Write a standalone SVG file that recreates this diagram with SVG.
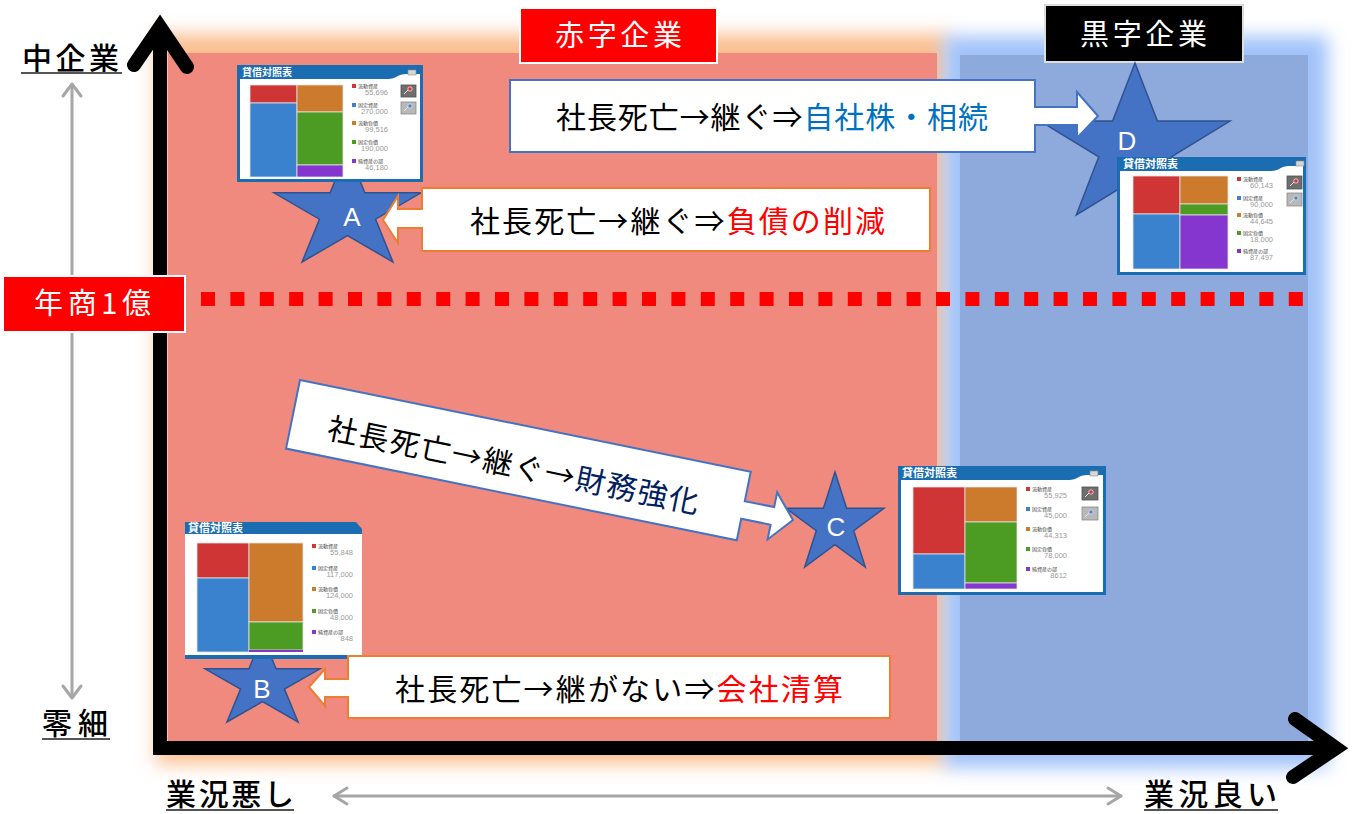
<svg xmlns="http://www.w3.org/2000/svg" width="1361" height="814" viewBox="0 0 1361 814">
  <style>
    .jp{font-family:"Noto Sans CJK JP","Noto Sans",sans-serif}
    .frame{fill:#1A6DB0}
    .pane{fill:#fff}
    .ttl{fill:#fff;font-weight:bold;font-family:"Noto Sans CJK JP",sans-serif}
    .lg{font-size:5px;fill:#444;font-family:"Noto Sans CJK JP",sans-serif}
    .val{font-size:7.5px;fill:#9a9a9a;text-anchor:end;font-family:"Liberation Sans",sans-serif}
    .cR{fill:#CF3535}.cB{fill:#3A82CE}.cO{fill:#CC7A2C}.cG{fill:#4C9B23}.cP{fill:#8536CE}
    .seg{stroke:#e4e4e4;stroke-width:0.8}
    .btnD{fill:#6e6e6e;stroke:#505050;stroke-width:0.8}
    .btnL{fill:#b8b8b8;stroke:#8a8a8a;stroke-width:0.8}
    .icon{fill:none;stroke:#e6e6e6;stroke-width:1}
    .close{fill:#d6d6d6;stroke:#8a8a8a;stroke-width:0.6}
    .star{fill:#4472C4;stroke:#2F528F}
    .starTxt{fill:#fff;font-family:"Liberation Sans",sans-serif;font-size:26px;text-anchor:middle}
    .callO{fill:#fff;stroke:#ED7D31;stroke-width:2}
    .callB{fill:#fff;stroke:#4472C4;stroke-width:2}
    .callTxt{font-size:30px;fill:#000}
    .axisLbl{font-size:30px;font-weight:500;fill:#000}
    .uline{stroke:#555;stroke-width:2}
    .guide{fill:none;stroke:#A6A6A6;stroke-width:3;stroke-linecap:round;stroke-linejoin:round}
    .axis{fill:none;stroke:#000;stroke-width:14}
    .tag{font-size:29px;fill:#fff}
  </style>
  <defs>
    <filter id="soft" x="-10%" y="-10%" width="120%" height="120%">
      <feGaussianBlur stdDeviation="9"/>
    </filter>
    <path id="star" vector-effect="non-scaling-stroke" stroke-width="1.5" d="M50,0 L61.8,38.2 L100,38.2 L69.1,61.8 L80.9,100 L50,76.4 L19.1,100 L30.9,61.8 L0,38.2 L38.2,38.2 Z"/>
  </defs>

  <rect width="1361" height="814" fill="#fff"/>

  <!-- zones: loss-making (red) and profitable (blue) with soft glows -->
  <g id="zones">
    <rect x="156" y="34" width="792" height="730" fill="#FBBE90" filter="url(#soft)"/>
    <rect x="944" y="36" width="384" height="732" fill="#A0C2FA" filter="url(#soft)"/>
    <rect x="168" y="53" width="769" height="690" fill="#F08A7E"/>
    <rect x="960" y="55" width="348" height="688" fill="#8EA9DB"/>
  </g>

  <!-- revenue threshold -->
  <line x1="201" y1="299" x2="1303" y2="299" stroke="#FF0000" stroke-width="14" stroke-dasharray="14 15.4"/>

  <!-- connectors: axes and guide arrows -->
  <g id="connectors">
    <path class="axis" d="M160,755 L160,28"/>
    <path class="axis" stroke-linejoin="miter" stroke-linecap="round" d="M134,65 L160,27 L187,67"/>
    <path class="axis" stroke-width="15" d="M153,748 L1336,748"/>
    <path class="axis" stroke-linejoin="miter" stroke-linecap="round" d="M1295,719 L1336,748 L1293,777"/>
    <path class="guide" d="M72,84 L72,697"/>
    <path class="guide" d="M63,96 L72,84 L81,96"/>
    <path class="guide" d="M63,686 L72,698 L81,686"/>
    <path class="guide" d="M334,796 L1121,796"/>
    <path class="guide" d="M347,788 L334,796 L347,804"/>
    <path class="guide" d="M1108,788 L1121,796 L1108,804"/>
  </g>

  <!-- axis captions -->
  <g id="caption-large" class="jp">
    <text class="axisLbl" x="22" y="69" textLength="97">中企業</text>
    <line class="uline" x1="21" y1="73" x2="122" y2="73"/>
  </g>
  <g id="caption-small" class="jp">
    <text class="axisLbl" x="42" y="734" textLength="66">零細</text>
    <line class="uline" x1="42" y1="739" x2="110" y2="739"/>
  </g>
  <g id="caption-bad" class="jp">
    <text class="axisLbl" x="166" y="805" textLength="128">業況悪し</text>
    <line class="uline" x1="166" y1="810" x2="294" y2="810"/>
  </g>
  <g id="caption-good" class="jp">
    <text class="axisLbl" x="1144" y="805" textLength="133">業況良い</text>
    <line class="uline" x1="1144" y1="810" x2="1278" y2="810"/>
  </g>

  <g id="tag-revenue" class="jp">
    <rect x="3" y="276" width="182" height="56" fill="#FF0000" stroke="#fff" stroke-width="2"/>
    <text class="tag" x="34" y="314" textLength="117">年商1億</text>
  </g>
  <g id="tag-deficit" class="jp">
    <rect x="520" y="8" width="197" height="55" fill="#FF0000" stroke="#fff" stroke-width="2"/>
    <text class="tag" font-size="28" x="555" y="46" textLength="127">赤字企業</text>
  </g>
  <g id="tag-surplus" class="jp">
    <rect x="1045" y="5" width="198" height="57" fill="#000" stroke="#ddd" stroke-width="2"/>
    <text class="tag" x="1080" y="45" textLength="127">黒字企業</text>
  </g>

  <!-- stars -->
  <g id="star-a">
    <use href="#star" class="star" transform="translate(274,150) scale(1.47,1.12)"/>
    <text class="starTxt" x="352" y="226">A</text>
  </g>
  <g id="star-b">
    <use href="#star" class="star" transform="translate(205,636) scale(1.15,0.86)"/>
    <text class="starTxt" x="262" y="698">B</text>
  </g>
  <g id="star-c">
    <use href="#star" class="star" transform="translate(786,472) scale(0.98,0.95)"/>
    <text class="starTxt" x="836" y="536">C</text>
  </g>
  <g id="star-d">
    <use href="#star" class="star" transform="translate(1040,63) scale(1.9,1.52)"/>
    <text class="starTxt" x="1127" y="150">D</text>
  </g>

  <!-- balance sheet A -->
  <g id="card-a">
    <rect class="frame" x="237" y="65" width="186" height="117"/>
    <path class="pane" d="M240,79 L388,79 C396,79 398,74 406,74 L420,74 L420,179 L240,179 Z"/>
    <text class="ttl" x="242" y="76" font-size="10">貸借対照表</text>
    <rect class="close" x="408" y="70" width="8" height="5"/>
    <rect class="cR seg" x="250" y="85" width="47" height="18"/>
    <rect class="cB seg" x="250" y="103" width="47" height="74"/>
    <rect class="cO seg" x="297" y="85" width="46" height="27"/>
    <rect class="cG seg" x="297" y="112" width="46" height="53"/>
    <rect class="cP seg" x="297" y="165" width="46" height="12"/>
    <rect class="cR" x="352" y="84" width="4" height="4"/><text class="lg" x="358" y="88">流動資産</text><text class="val" x="388" y="95">55,696</text>
    <rect class="cB" x="352" y="103" width="4" height="4"/><text class="lg" x="358" y="107">固定資産</text><text class="val" x="388" y="114">270,000</text>
    <rect class="cO" x="352" y="121" width="4" height="4"/><text class="lg" x="358" y="125">流動負債</text><text class="val" x="388" y="132">99,516</text>
    <rect class="cG" x="352" y="140" width="4" height="4"/><text class="lg" x="358" y="144">固定負債</text><text class="val" x="388" y="151">190,000</text>
    <rect class="cP" x="352" y="159" width="4" height="4"/><text class="lg" x="358" y="163">純資産の部</text><text class="val" x="388" y="170">46,180</text>
    <rect class="btnD" x="401" y="85" width="15" height="12"/>
    <path class="icon" d="M404,94 L408,90"/><circle cx="410" cy="89" r="2.2" fill="#d33" stroke="#e6e6e6" stroke-width="0.8"/>
    <rect class="btnL" x="401" y="102" width="15" height="12"/>
    <path class="icon" d="M404,111 L408,107"/><circle cx="410" cy="106" r="2.2" fill="#48c" stroke="#e6e6e6" stroke-width="0.8"/>
  </g>

  <!-- balance sheet D -->
  <g id="card-d">
    <rect class="frame" x="1117" y="157" width="189" height="118"/>
    <path class="pane" d="M1120,171 L1271,171 C1279,171 1281,166 1289,166 L1303,166 L1303,272 L1120,272 Z"/>
    <text class="ttl" x="1123" y="168" font-size="11">貸借対照表</text>
    <rect class="close" x="1296" y="161" width="8" height="5"/>
    <rect class="cR seg" x="1133" y="176" width="47" height="38"/>
    <rect class="cB seg" x="1133" y="214" width="47" height="55"/>
    <rect class="cO seg" x="1180" y="176" width="48" height="28"/>
    <rect class="cG seg" x="1180" y="204" width="48" height="11"/>
    <rect class="cP seg" x="1180" y="215" width="48" height="54"/>
    <rect class="cR" x="1237" y="177" width="4" height="4"/><text class="lg" x="1243" y="181">流動資産</text><text class="val" x="1273" y="188">60,143</text>
    <rect class="cB" x="1237" y="196" width="4" height="4"/><text class="lg" x="1243" y="200">固定資産</text><text class="val" x="1273" y="207">90,000</text>
    <rect class="cO" x="1237" y="213" width="4" height="4"/><text class="lg" x="1243" y="217">流動負債</text><text class="val" x="1273" y="224">44,645</text>
    <rect class="cG" x="1237" y="231" width="4" height="4"/><text class="lg" x="1243" y="235">固定負債</text><text class="val" x="1273" y="242">18,000</text>
    <rect class="cP" x="1237" y="249" width="4" height="4"/><text class="lg" x="1243" y="253">純資産の部</text><text class="val" x="1273" y="260">87,497</text>
    <rect class="btnD" x="1287" y="176" width="15" height="13"/>
    <path class="icon" d="M1290,186 L1294,182"/><circle cx="1296" cy="181" r="2.2" fill="#d33" stroke="#e6e6e6" stroke-width="0.8"/>
    <rect class="btnL" x="1287" y="193" width="15" height="13"/>
    <path class="icon" d="M1290,203 L1294,199"/><circle cx="1296" cy="198" r="2.2" fill="#48c" stroke="#e6e6e6" stroke-width="0.8"/>
  </g>

  <!-- balance sheet C -->
  <g id="card-c">
    <rect class="frame" x="898" y="466" width="208" height="129"/>
    <path class="pane" d="M901,480 L1069,480 C1077,480 1079,475 1087,475 L1103,475 L1103,592 L901,592 Z"/>
    <text class="ttl" x="902" y="477" font-size="11">貸借対照表</text>
    <rect class="close" x="1090" y="471" width="8" height="5"/>
    <rect class="cR seg" x="913" y="487" width="52" height="67"/>
    <rect class="cB seg" x="913" y="554" width="52" height="35"/>
    <rect class="cO seg" x="965" y="487" width="52" height="35"/>
    <rect class="cG seg" x="965" y="522" width="52" height="61"/>
    <rect class="cP seg" x="965" y="583" width="52" height="6"/>
    <rect class="cR" x="1026" y="487" width="4" height="4"/><text class="lg" x="1032" y="491">流動資産</text><text class="val" x="1067" y="498">55,925</text>
    <rect class="cB" x="1026" y="507" width="4" height="4"/><text class="lg" x="1032" y="511">固定資産</text><text class="val" x="1067" y="518">45,000</text>
    <rect class="cO" x="1026" y="527" width="4" height="4"/><text class="lg" x="1032" y="531">流動負債</text><text class="val" x="1067" y="538">44,313</text>
    <rect class="cG" x="1026" y="547" width="4" height="4"/><text class="lg" x="1032" y="551">固定負債</text><text class="val" x="1067" y="558">78,000</text>
    <rect class="cP" x="1026" y="567" width="4" height="4"/><text class="lg" x="1032" y="571">純資産の部</text><text class="val" x="1067" y="578">8612</text>
    <rect class="btnD" x="1082" y="487" width="16" height="13"/>
    <path class="icon" d="M1085,497 L1089,493"/><circle cx="1091" cy="492" r="2.2" fill="#d33" stroke="#e6e6e6" stroke-width="0.8"/>
    <rect class="btnL" x="1082" y="507" width="16" height="13"/>
    <path class="icon" d="M1085,517 L1089,513"/><circle cx="1091" cy="512" r="2.2" fill="#48c" stroke="#e6e6e6" stroke-width="0.8"/>
  </g>

  <!-- balance sheet B -->
  <g id="card-b">
    <polygon class="frame" points="185,522 356,522 362,529 362,534 185,534"/>
    <rect class="pane" x="185" y="534" width="177" height="121"/>
    <rect class="frame" x="185" y="655" width="177" height="4"/>
    <text class="ttl" x="188" y="532" font-size="11">貸借対照表</text>
    <rect class="cR seg" x="197" y="543" width="52" height="35"/>
    <rect class="cB seg" x="197" y="578" width="52" height="74"/>
    <rect class="cO seg" x="249" y="543" width="54" height="79"/>
    <rect class="cG seg" x="249" y="622" width="54" height="28"/>
    <rect class="cP" x="249" y="650" width="54" height="2"/>
    <rect class="cR" x="312" y="544" width="4" height="4"/><text class="lg" x="318" y="548">流動資産</text><text class="val" x="353" y="555">55,848</text>
    <rect class="cB" x="312" y="566" width="4" height="4"/><text class="lg" x="318" y="570">固定資産</text><text class="val" x="353" y="577">117,000</text>
    <rect class="cO" x="312" y="587" width="4" height="4"/><text class="lg" x="318" y="591">流動負債</text><text class="val" x="353" y="598">124,000</text>
    <rect class="cG" x="312" y="609" width="4" height="4"/><text class="lg" x="318" y="613">固定負債</text><text class="val" x="353" y="620">48,000</text>
    <rect class="cP" x="312" y="630" width="4" height="4"/><text class="lg" x="318" y="634">純資産の部</text><text class="val" x="353" y="641">848</text>
  </g>

  <!-- callouts -->
  <g id="callout-a" class="jp">
    <path class="callO" d="M422,188 L930,188 L930,251 L422,251 L422,228 L398,228 L398,243 L383,220 L398,196 L398,209 L422,209 Z"/>
    <text class="callTxt" x="470" y="232" textLength="415">社長死亡→継ぐ⇒<tspan fill="#FF0000">負債の削減</tspan></text>
  </g>
  <g id="callout-b" class="jp">
    <path class="callO" d="M348,656 L890,656 L890,718 L348,718 L348,697 L325,697 L325,706 L309,687 L325,669 L325,679 L348,679 Z"/>
    <text class="callTxt" x="395" y="700" textLength="448">社長死亡→継がない⇒<tspan fill="#FF0000">会社清算</tspan></text>
  </g>
  <g id="callout-c" class="jp" transform="translate(300,380) rotate(11.5)">
    <path class="callB" d="M0,0 L460,0 L460,30 L490,30 L490,15 L511,39 L490,63 L490,48 L460,48 L460,70 L0,70 Z"/>
    <text class="callTxt" x="37" y="52" textLength="378">社長死亡→継ぐ→<tspan fill="#002060">財務強化</tspan></text>
  </g>
  <g id="callout-d" class="jp">
    <path class="callB" d="M510,80 L1035,80 L1035,107 L1077,107 L1077,92 L1098,116 L1077,138 L1077,125 L1035,125 L1035,152 L510,152 Z"/>
    <text class="callTxt" x="556" y="128" textLength="432">社長死亡→継ぐ⇒<tspan fill="#0070C0">自社株・相続</tspan></text>
  </g>
</svg>
